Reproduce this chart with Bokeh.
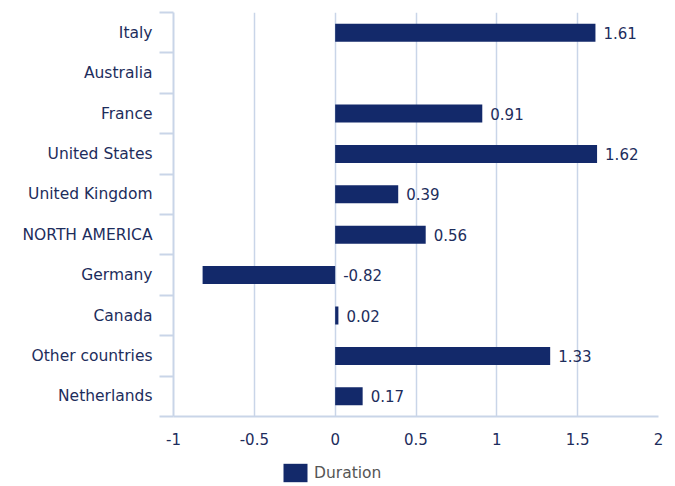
import math
from bokeh.plotting import figure
from bokeh.layouts import column
from bokeh.models import (Range1d, FixedTicker, ColumnDataSource, Legend, LegendItem)
from bokeh.core.properties import value
from bokeh.embed import file_html
from bokeh.resources import INLINE

categories = ["Italy", "Australia", "France", "United States", "United Kingdom",
              "NORTH AMERICA", "Germany", "Canada", "Other countries", "Netherlands"]
duration = [1.61, float("nan"), 0.91, 1.62, 0.39, 0.56, -0.82, 0.02, 1.33, 0.17]
x_ticks = [-1, -0.5, 0, 0.5, 1, 1.5, 2]
x_tick_labels = ["-1", "-0.5", "0", "0.5", "1", "1.5", "2"]
series_name = "Duration"

n = len(categories)
ypos = [n - i - 0.5 for i in range(n)]
labels = ["" if math.isnan(v) else f"{v:.2f}" for v in duration]
label_x = [0 if math.isnan(v) else max(v, 0) for v in duration]

src = ColumnDataSource(dict(y=ypos, v=duration, lab=labels, lx=label_x))

FONT = "DejaVu Sans"
NAVY = "#13296a"
TXT = "#1d2d5c"
GRID = "#c9d5e8"
FS = "15px"

p = figure(width=667, height=458, x_range=Range1d(-1, 2), y_range=Range1d(0, n),
           output_backend="svg", toolbar_location=None)
p.min_border_left = 173
p.min_border_right = 9
p.min_border_top = 12
p.min_border_bottom = 42
p.outline_line_color = None

r = p.hbar(y="y", right="v", left=0, height=0.445, source=src,
           fill_color=NAVY, line_color=None)
p.text(x="lx", y="y", text="lab", source=src, x_offset=8,
       text_baseline="middle", text_align="left", text_color=TXT,
       text_font=value(FONT), text_font_size=FS)

p.xaxis.ticker = FixedTicker(ticks=x_ticks)
p.xaxis.major_label_overrides = {t: l for t, l in zip(x_ticks, x_tick_labels)}
p.xaxis.major_tick_line_color = None
p.xaxis.minor_tick_line_color = None
p.xaxis.axis_line_color = GRID
p.xaxis.axis_line_width = 2
p.xaxis.major_label_standoff = 10
p.xaxis.major_label_text_font = FONT
p.xaxis.major_label_text_font_size = FS
p.xaxis.major_label_text_color = TXT

p.yaxis.ticker = FixedTicker(ticks=ypos, minor_ticks=list(range(n + 1)))
p.yaxis.major_label_overrides = {y: c for y, c in zip(ypos, categories)}
p.yaxis.major_tick_out = 0
p.yaxis.major_tick_in = 0
p.yaxis.minor_tick_out = 14
p.yaxis.minor_tick_in = 0
p.yaxis.minor_tick_line_color = GRID
p.yaxis.minor_tick_line_width = 2
p.yaxis.axis_line_color = GRID
p.yaxis.axis_line_width = 2
p.yaxis.major_label_standoff = 7
p.yaxis.major_label_text_font = FONT
p.yaxis.major_label_text_font_size = "15.5px"
p.yaxis.major_label_text_color = TXT

p.xgrid.grid_line_color = GRID
p.xgrid.grid_line_width = 1.5
p.ygrid.grid_line_color = None

# legend strip below the chart (same series, zero-height and out of view, so only its key shows)
p2 = figure(width=667, height=28, x_range=Range1d(-1, 2), y_range=Range1d(100, 101),
            output_backend="svg", toolbar_location=None)
p2.min_border_left = 173
p2.min_border_right = 9
p2.min_border_top = 0
p2.min_border_bottom = 0
p2.xaxis.visible = False
p2.yaxis.visible = False
p2.xgrid.visible = False
p2.ygrid.visible = False
p2.outline_line_color = None
r2 = p2.hbar(y="y", right="v", left=0, height=0, source=src,
             fill_color=NAVY, line_color=None)
legend = Legend(items=[LegendItem(label=series_name, renderers=[r2])],
                location=(107, 2), orientation="horizontal",
                glyph_width=30, glyph_height=23, label_text_font=FONT,
                label_text_font_size="15.5px", label_text_color="#555555",
                border_line_color=None, background_fill_alpha=0,
                padding=0, margin=0, label_standoff=4)
p2.add_layout(legend, "center")

open("out.html", "w").write(file_html(column(p, p2, spacing=0), INLINE))
